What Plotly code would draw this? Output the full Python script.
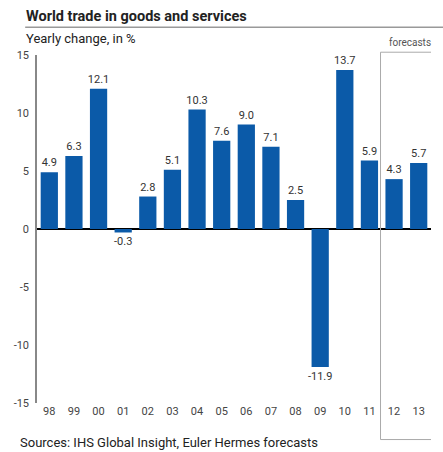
import plotly.graph_objects as go

years = ["98", "99", "00", "01", "02", "03", "04", "05", "06", "07", "08", "09", "10", "11", "12", "13"]
values = [4.9, 6.3, 12.1, -0.3, 2.8, 5.1, 10.3, 7.6, 9.0, 7.1, 2.5, -11.9, 13.7, 5.9, 4.3, 5.7]
labels = ["4.9", "6.3", "12.1", "-0.3", "2.8", "5.1", "10.3", "7.6", "9.0", "7.1", "2.5", "-11.9", "13.7", "5.9", "4.3", "5.7"]
y_ticks = [15, 10, 5, 0, -5, -10, -15]
y_tick_text = ["15", "10", "5", "0", "-5", "-10", "-15"]

FONT = "Roboto, sans-serif"

fig = go.Figure()
fig.add_trace(go.Bar(
    x=list(range(len(years))), y=values, text=labels,
    textposition="outside", cliponaxis=False, constraintext="none",
    textfont=dict(family=FONT, size=11, color="#333333"),
    marker=dict(color="#0b5aa8", line=dict(width=0)),
    width=0.7,
))

fig.update_layout(
    width=443, height=452,
    margin=dict(l=37, r=12, t=55, b=49),
    paper_bgcolor="white", plot_bgcolor="white",
    showlegend=False,
    xaxis=dict(
        range=[-0.5, 15.5], tickmode="array", tickvals=list(range(len(years))),
        ticktext=years, showgrid=False, zeroline=False, showline=False,
        tickfont=dict(family=FONT, size=11, color="#444444"), ticks="",
    ),
    yaxis=dict(
        range=[-15, 15], tickvals=y_ticks, ticktext=y_tick_text, showgrid=False,
        zeroline=True, zerolinecolor="black", zerolinewidth=1.5,
        showline=True, linecolor="#888888", linewidth=1.5,
        tickfont=dict(family=FONT, size=11, color="#444444"),
        ticks="", ticklabelstandoff=4,
    ),
    shapes=[
        dict(type="line", xref="paper", yref="paper", x0=-0.03, x1=1.05, y0=1.08, y1=1.08,
             line=dict(color="#999999", width=1.5)),
        dict(type="rect", xref="x", yref="paper", x0=13.45, x1=15.85, y0=-0.105, y1=1.008,
             line=dict(color="#aaaaaa", width=1)),
    ],
    annotations=[
        dict(text="<b>World trade in goods and services</b>", xref="paper", yref="paper",
             x=-0.032, y=1.08, xanchor="left", yanchor="bottom", showarrow=False,
             font=dict(family=FONT, size=14.5, color="#222222")),
        dict(text="Yearly change, in %", xref="paper", yref="paper",
             x=-0.032, y=1.075, xanchor="left", yanchor="top", showarrow=False,
             font=dict(family=FONT, size=13, color="#222222")),
        dict(text="forecasts", xref="x", yref="paper",
             x=14.65, y=1.015, xanchor="center", yanchor="bottom", showarrow=False,
             font=dict(family=FONT, size=10, color="#555555")),
        dict(text="Sources: IHS Global Insight, Euler Hermes forecasts", xref="paper", yref="paper",
             x=-0.048, y=-0.085, xanchor="left", yanchor="top", showarrow=False,
             font=dict(family=FONT, size=13, color="#222222")),
    ],
)

fig.write_html("out.html")
